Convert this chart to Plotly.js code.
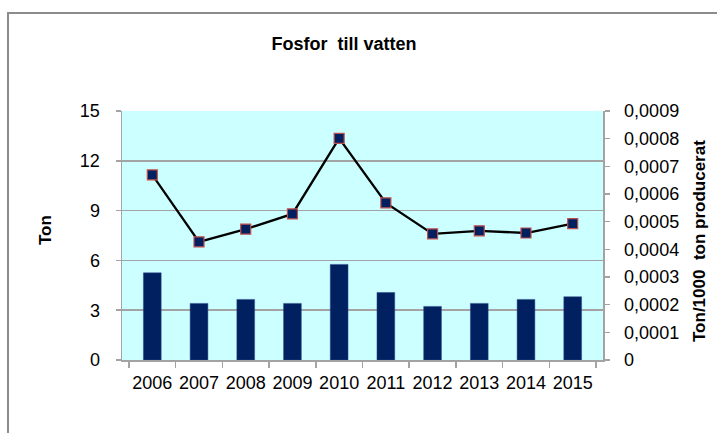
<!DOCTYPE html>
<html>
<head>
<meta charset="utf-8">
<script src="https://cdn.plot.ly/plotly-3.0.1.min.js"></script>
<style>
html,body{margin:0;padding:0;background:#fff;}
#wrap{position:relative;width:717px;height:433px;overflow:hidden;}
#chart{position:absolute;left:0;top:0;width:717px;height:433px;}
#frame{position:absolute;left:7px;top:12px;width:720px;height:430px;border-left:2px solid #8c8c8c;border-top:2px solid #8c8c8c;pointer-events:none;}
</style>
</head>
<body>
<div id="wrap">
<div id="chart"></div>
<div id="frame"></div>
</div>
<script>
var years = ["2006","2007","2008","2009","2010","2011","2012","2013","2014","2015"];
var tonValues = [5.25, 3.41, 3.65, 3.41, 5.76, 4.07, 3.23, 3.41, 3.65, 3.81];
var tonPer1000 = [0.000669, 0.000427, 0.000473, 0.000528, 0.000801, 0.000568, 0.000456, 0.000467, 0.000459, 0.000493];
var leftTicks = [0, 3, 6, 9, 12, 15];
var rightTickVals = [0, 0.0001, 0.0002, 0.0003, 0.0004, 0.0005, 0.0006, 0.0007, 0.0008, 0.0009];
var rightTickText = ["0", "0,0001", "0,0002", "0,0003", "0,0004", "0,0005", "0,0006", "0,0007", "0,0008", "0,0009"];

var FONT = "Arial, 'Liberation Sans', sans-serif";
var grid = "#a3a3a3";

var traces = [
  {
    type: "bar",
    x: years,
    y: tonValues,
    yaxis: "y",
    width: 0.38,
    marker: {color: "#002060", line: {color: "#2a4a86", width: 0.5}},
    hoverinfo: "x+y"
  },
  {
    type: "scatter",
    mode: "lines+markers",
    x: years,
    y: tonPer1000,
    yaxis: "y2",
    line: {color: "#000000", width: 2.3},
    marker: {symbol: "square", size: 10, color: "#002060", line: {color: "#c0504d", width: 1.2}},
    hoverinfo: "x+y"
  }
];

var layout = {
  width: 717,
  height: 433,
  margin: {l: 122, r: 114, t: 111, b: 73},
  paper_bgcolor: "#ffffff",
  plot_bgcolor: "#ccffff",
  showlegend: false,
  font: {family: FONT, size: 18, color: "#000000"},
  title: {
    text: "<b>Fosfor  till vatten</b>",
    font: {family: FONT, size: 18, color: "#000000"},
    xref: "container", yref: "container",
    x: 344/717, xanchor: "center",
    y: 1 - 44/433, yanchor: "middle"
  },
  xaxis: {
    type: "category",
    showgrid: false,
    showline: true, linecolor: grid, linewidth: 1.5,
    ticks: "outside", tickson: "boundaries", ticklen: 6, tickcolor: grid, tickwidth: 1.5,
    tickangle: 0,
    ticklabelstandoff: 6,
    tickfont: {family: FONT, size: 18, color: "#000000"},
    fixedrange: true
  },
  yaxis: {
    range: [0, 15],
    tickvals: leftTicks,
    showgrid: true, gridcolor: grid, gridwidth: 1.5,
    zeroline: false,
    showline: true, linecolor: grid, linewidth: 1.5,
    ticks: "outside", ticklen: 5, tickcolor: grid, tickwidth: 1.5,
    ticklabelstandoff: 12,
    tickfont: {family: FONT, size: 18, color: "#000000"},
    fixedrange: true
  },
  yaxis2: {
    overlaying: "y",
    side: "right",
    range: [0, 0.0009],
    tickvals: rightTickVals,
    ticktext: rightTickText,
    showgrid: false,
    zeroline: false,
    showline: true, linecolor: grid, linewidth: 1.5,
    ticks: "outside", ticklen: 5, tickcolor: grid, tickwidth: 1.5,
    ticklabelstandoff: 11,
    tickfont: {family: FONT, size: 18, color: "#000000"},
    fixedrange: true
  },
  annotations: [
    {
      text: "<b>Ton</b>",
      xref: "paper", yref: "paper",
      x: (45 - 122) / 481, y: (360 - 230) / 249,
      xanchor: "center", yanchor: "middle",
      textangle: -90, showarrow: false,
      font: {family: FONT, size: 17, color: "#000000"}
    },
    {
      text: "<b>Ton/1000  ton producerat</b>",
      xref: "paper", yref: "paper",
      x: (699 - 122) / 481, y: (360 - 241) / 249,
      xanchor: "center", yanchor: "middle",
      textangle: -90, showarrow: false,
      font: {family: FONT, size: 17, color: "#000000"}
    }
  ]
};

Plotly.newPlot("chart", traces, layout, {displayModeBar: false, staticPlot: true});
</script>
</body>
</html>
